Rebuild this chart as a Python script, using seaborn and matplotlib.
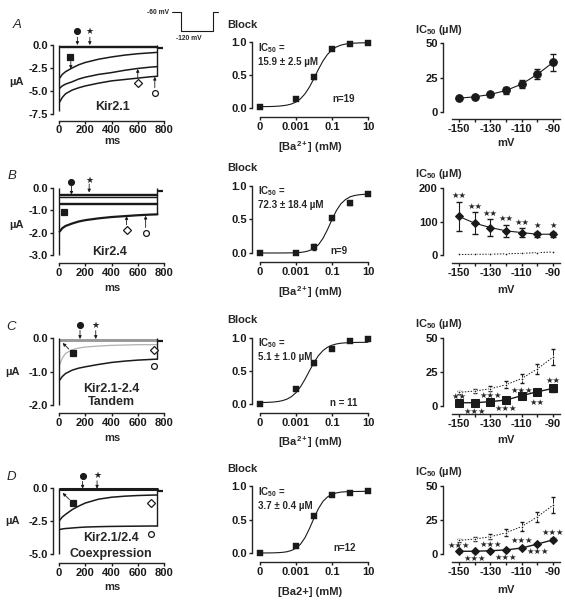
import matplotlib
matplotlib.use("Agg")
import matplotlib.pyplot as plt
import seaborn as sns
import pandas as pd
from matplotlib.lines import Line2D

# ---------------- data ----------------
T_MS = [5, 25, 50, 100, 150, 200, 300, 400, 500, 600, 700, 750]

A_TRACES = [
    [-3.6, -3.2, -2.9, -2.5, -2.15, -1.9, -1.55, -1.3, -1.1, -0.95, -0.85, -0.8],
    [-4.7, -4.45, -4.25, -4.0, -3.7, -3.5, -3.2, -3.0, -2.75, -2.55, -2.4, -2.35],
    [-6.2, -5.7, -5.3, -4.9, -4.65, -4.45, -4.15, -3.9, -3.75, -3.6, -3.45, -3.4],
]
A_FLAT = [-0.08, -0.2]
A_PEAK = -7.2

B_TRACES = [
    [-1.95, -1.8, -1.7, -1.59, -1.5, -1.44, -1.36, -1.3, -1.26, -1.22, -1.19, -1.18],
]
B_FLAT = [-0.25, -0.33, -0.42, -0.65, -0.72]
B_PEAK = -3.0

C_GRAY = [-0.8, -0.6, -0.46, -0.35, -0.3, -0.27, -0.24, -0.22, -0.21, -0.2, -0.2, -0.2]
C_TRACES = [
    [-1.26, -1.15, -1.06, -0.96, -0.9, -0.86, -0.79, -0.73, -0.69, -0.66, -0.64, -0.63],
]
C_FLAT = [-0.05, -0.1]
C_PEAK = -2.0

D_TRACES = [
    [-2.45, -2.2, -2.0, -1.64, -1.37, -1.14, -0.85, -0.7, -0.62, -0.57, -0.54, -0.53],
    [-3.15, -3.1, -3.07, -3.03, -2.99, -2.96, -2.93, -2.91, -2.9, -2.89, -2.88, -2.88],
]
D_FLAT = [-0.1]
D_PEAK = -5.0

# Ba2+ concentration-response (x = log10 mM, "0" plotted at -5)
BA_LOGX = [-5, -3, -2, -1, 0, 1]
BLOCK_A = [0.01, 0.14, 0.47, 0.89, 0.97, 0.99]
BLOCK_B = [0.0, 0.0, 0.09, 0.52, 0.75, 0.88]
BLOCK_C = [0.0, 0.22, 0.62, 0.83, 0.96, 0.98]
BLOCK_D = [0.0, 0.11, 0.55, 0.86, 0.90, 0.93]
BLOCK_ERR_A = [0.0, 0.01, 0.03, 0.01, 0.01, 0.01]
BLOCK_ERR_B = [0.01, 0.02, 0.04, 0.03, 0.03, 0.02]
BLOCK_ERR_C = [0.0, 0.01, 0.03, 0.01, 0.01, 0.01]
BLOCK_ERR_D = [0.0, 0.01, 0.01, 0.01, 0.01, 0.01]

FIT_X = [-5, -4.75, -4.5, -4.25, -4, -3.75, -3.5, -3.25, -3, -2.75, -2.5, -2.25, -2,
         -1.75, -1.5, -1.25, -1, -0.75, -0.5, -0.25, 0, 0.25, 0.5, 0.75, 1]
FIT_A = [0.021, 0.021, 0.022, 0.024, 0.028, 0.034, 0.044, 0.061, 0.091, 0.14, 0.215, 0.319, 0.449,
         0.588, 0.714, 0.812, 0.881, 0.926, 0.953, 0.969, 0.978, 0.983, 0.986, 0.988, 0.989]
FIT_B = [0.0, 0.0, 0.0, 0.0, 0.0003, 0.0006, 0.0012, 0.0025, 0.0046, 0.0092, 0.018, 0.036, 0.068,
         0.124, 0.219, 0.35, 0.499, 0.636, 0.737, 0.798, 0.838, 0.858, 0.869, 0.875, 0.877]
FIT_C = [0.022, 0.023, 0.026, 0.03, 0.038, 0.051, 0.074, 0.112, 0.172, 0.26, 0.375, 0.504, 0.63,
         0.734, 0.81, 0.86, 0.891, 0.91, 0.921, 0.927, 0.93, 0.932, 0.934, 0.934, 0.935]
FIT_D = [0.0003, 0.0006, 0.0012, 0.0024, 0.0048, 0.0096, 0.019, 0.038, 0.071, 0.131, 0.229, 0.366, 0.521,
         0.665, 0.771, 0.837, 0.876, 0.897, 0.909, 0.914, 0.917, 0.918, 0.919, 0.92, 0.92]

IC50_TEXT = ["15.9 \u00b1 2.5 \u00b5M", "72.3 \u00b1 18.4 \u00b5M", "5.1 \u00b1 1.0 \u00b5M", "3.7 \u00b1 0.4 \u00b5M"]
N_TEXT = ["n=19", "n=9", "n = 11", "n=12"]

# IC50 vs voltage
MV = [-150, -140, -130, -120, -110, -100, -90]
IC_K21 = [10.0, 11.0, 12.7, 15.6, 20.2, 27.3, 35.9]
IC_K21_ERR = [1.0, 1.5, 2.0, 2.5, 3.0, 3.5, 6.0]
IC_K24 = [115, 95, 82, 72, 67, 62, 62]
IC_K24_ERR = [42, 33, 25, 18, 14, 8, 8]
IC_B_REF = [1.5, 2.0, 2.5, 3.5, 5.0, 7.0, 9.0]
IC_TAND = [2.4, 2.4, 3.2, 4.4, 7.6, 10.5, 12.9]
IC_TAND_ERR = [1.0, 0.8, 1.0, 1.0, 1.2, 2.0, 2.5]
IC_COEX = [2.0, 2.0, 2.4, 3.0, 4.4, 7.3, 10.4]
IC_COEX_ERR = [0.5, 0.5, 0.5, 0.5, 0.6, 0.8, 1.0]

STARS_B = ["**", "**", "**", "**", "**", "*", "*"]
STARS_B_Y = [178, 146, 124, 109, 97, 87, 87]
STARS_C = ["**", "***", "***", "***", "***", "**", "**"]
STARS_C_Y = [7.3, -3.7, 8.0, -1.7, 11.7, 2.7, 18.5]
STARS_D = ["***"] * 7
STARS_D_Y = [6.3, -3.4, 6.8, -2.4, 10.0, 1.5, 16.0]

# ---------------- style ----------------
sns.set_theme(style="ticks")
plt.rcParams["font.family"] = ["Liberation Sans", "DejaVu Sans"]
plt.rcParams["font.weight"] = "bold"
plt.rcParams["mathtext.fontset"] = "custom"
plt.rcParams["mathtext.rm"] = "Liberation Sans:bold"
plt.rcParams["mathtext.it"] = "Liberation Sans:bold:italic"
plt.rcParams["mathtext.bf"] = "Liberation Sans:bold"
plt.rcParams["mathtext.default"] = "rm"
plt.rcParams["axes.linewidth"] = 1.0

W, H = 565, 602
fig = plt.figure(figsize=(W / 100, H / 100), dpi=100)
PT = 0.72  # points per pixel
FS = 8


def T(x, y, s, **kw):
    kw.setdefault("ha", "center")
    kw.setdefault("va", "center")
    kw.setdefault("fontsize", FS)
    return fig.text(x / W, 1 - y / H, s, **kw)


def make_ax(xmap, ymap, xlim, ylim, spine_x, axis_y, xb=None, yb=None):
    (xd0, xp0), (xd1, xp1) = xmap
    sx = (xp1 - xp0) / (xd1 - xd0)
    lpx = xp0 + (xlim[0] - xd0) * sx
    rpx = xp0 + (xlim[1] - xd0) * sx
    (yd0, yp0), (yd1, yp1) = ymap
    sy = (yp1 - yp0) / (yd1 - yd0)
    tpx = yp0 + (ylim[1] - yd0) * sy
    bpx = yp0 + (ylim[0] - yd0) * sy
    ax = fig.add_axes([lpx / W, 1 - bpx / H, (rpx - lpx) / W, (bpx - tpx) / H])
    ax.set_xlim(xlim)
    ax.set_ylim(ylim)
    ax.set_facecolor("none")
    sns.despine(ax=ax)
    ax.spines["left"].set_position(("outward", (lpx - spine_x) * PT))
    ax.spines["bottom"].set_position(("outward", (axis_y - bpx) * PT))
    if xb is not None:
        ax.spines["bottom"].set_bounds(*xb)
    if yb is not None:
        ax.spines["left"].set_bounds(*yb)
    ax.tick_params(length=2.5, width=1.0, pad=1.2, labelsize=FS, colors="k")
    ax.set_xlabel("")
    ax.set_ylabel("")
    return ax


def unclip(ax):
    for a in ax.lines + ax.collections + ax.texts:
        a.set_clip_on(False)


def mark(ax, m, x, y, filled=True, ms=4.2):
    if m == "*":
        ax.text(x, y, "\u2605", ha="center", va="center", fontsize=6.5,
                family=["DejaVu Sans"], clip_on=False)
        return
    ax.plot([x], [y], marker=m, ms=ms, color="k",
            mfc="k" if filled else "white", mew=0.9, clip_on=False, ls="none")


def arrow(ax, x0, y0, x1, y1):
    ax.annotate("", xy=(x1, y1), xytext=(x0, y0),
                arrowprops=dict(arrowstyle="-|>", lw=0.6, color="k",
                                mutation_scale=4.5, shrinkA=0, shrinkB=0),
                annotation_clip=False)


# ---------------- column 1: current traces ----------------
ROWS1 = [
    dict(top=45, bot=114, ymin=-7.5, axis=121, ticks=[0, -2.5, -5, -7.5],
         labels=["0.0", "-2.5", "-5.0", "-7.5"]),
    dict(top=188, bot=255, ymin=-3.0, axis=263, ticks=[0, -1, -2, -3],
         labels=["0.0", "-1.0", "-2.0", "-3.0"]),
    dict(top=338, bot=405, ymin=-2.0, axis=413, ticks=[0, -1, -2],
         labels=["0.0", "-1.0", "-2.0"]),
    dict(top=488, bot=554, ymin=-5.0, axis=563, ticks=[0, -2.5, -5],
         labels=["0.0", "-2.5", "-5.0"]),
]
TRACE_SETS = [
    (A_TRACES, A_FLAT, A_PEAK),
    (B_TRACES, B_FLAT, B_PEAK),
    (C_TRACES, C_FLAT, C_PEAK),
    (D_TRACES, D_FLAT, D_PEAK),
]
ax1 = []
for i, r in enumerate(ROWS1):
    ax = make_ax(((0, 59), (800, 164)), ((0, r["top"]), (r["ymin"], r["bot"])),
                 (0, 800), (r["ymin"], 0), spine_x=53, axis_y=r["axis"])
    ax.set_xticks([0, 200, 400, 600, 800])
    ax.set_yticks(r["ticks"])
    ax.set_yticklabels(r["labels"])
    if i == 0:
        ax.tick_params(axis="x", pad=0.6)
    traces, flats, peak = TRACE_SETS[i]
    flat_col = "#9a9a9a" if i == 2 else "k"
    flat_lw = 2.2 if i == 3 else (1.4 if i == 2 else 1.0)
    for lvl in flats:
        sns.lineplot(x=[T_MS[0], T_MS[-1]], y=[lvl, lvl], ax=ax, color=flat_col,
                     lw=flat_lw, estimator=None)
    if i == 2:
        sns.lineplot(x=T_MS, y=C_GRAY, ax=ax, color="#b0b0b0", lw=0.9, estimator=None)
    for tr in traces:
        sns.lineplot(x=T_MS, y=tr, ax=ax, color="k", lw=1.6 if i == 1 else 1.1,
                     estimator=None)
    ends = [tr[-1] for tr in traces]
    ax.vlines(0, peak, 0, color="k", lw=1.0)
    ax.vlines(T_MS[-1], min(ends), 0, color="k", lw=1.0)
    ax.hlines(-0.05 * abs(r["ymin"]), T_MS[-1], 790, color="k", lw=1.6)
    ax1.append(ax)
    unclip(ax)

# markers & arrows, column 1
a = ax1[0]
mark(a, "o", 140, 1.5); arrow(a, 140, 0.85, 140, 0.0)
mark(a, "*", 235, 1.5); arrow(a, 235, 0.85, 235, 0.0)
mark(a, "s", 85, -1.35); arrow(a, 90, -1.8, 90, -2.6)
mark(a, "D", 600, -4.1, filled=False, ms=3.6); arrow(a, 600, -3.5, 600, -2.6)
mark(a, "o", 730, -5.25, filled=False); arrow(a, 730, -4.65, 730, -3.45)
a = ax1[1]
mark(a, "o", 95, 0.27); arrow(a, 95, 0.13, 95, -0.3)
mark(a, "*", 230, 0.34); arrow(a, 230, 0.18, 230, -0.2)
mark(a, "s", 40, -1.07)
mark(a, "D", 515, -1.89, filled=False, ms=3.6); arrow(a, 515, -1.65, 515, -1.26)
mark(a, "o", 660, -2.0, filled=False); arrow(a, 660, -1.77, 660, -1.24)
a = ax1[2]
mark(a, "o", 160, 0.4); arrow(a, 160, 0.23, 160, -0.03)
mark(a, "*", 280, 0.38); arrow(a, 280, 0.22, 280, -0.03)
mark(a, "s", 110, -0.45); arrow(a, 75, -0.33, 28, -0.15)
mark(a, "D", 720, -0.35, filled=False, ms=3.6)
mark(a, "o", 720, -0.84, filled=False)
a = ax1[3]
mark(a, "o", 180, 0.88); arrow(a, 180, 0.5, 180, -0.05)
mark(a, "*", 290, 0.93); arrow(a, 290, 0.55, 290, -0.05)
mark(a, "s", 110, -1.14); arrow(a, 80, -0.88, 28, -0.38)
mark(a, "D", 700, -1.14, filled=False, ms=3.6)
mark(a, "o", 700, -3.48, filled=False)

# texts column 1
T(17, 25, "A", style="italic", weight="normal", fontsize=9.5)
T(12, 176, "B", style="italic", weight="normal", fontsize=9.5)
T(11, 327, "C", style="italic", weight="normal", fontsize=9.5)
T(11, 477, "D", style="italic", weight="normal", fontsize=9.5)
for y in [82, 225]:
    T(16, y, "\u00b5A")
T(12, 372, "\u00b5A")
T(12, 521, "\u00b5A")
for y in [141, 288, 438, 587]:
    T(112, y, "ms")
T(113, 107, "Kir2.1", fontsize=9)
T(110, 252, "Kir2.4", fontsize=9)
T(111, 389, "Kir2.1-2.4", fontsize=9)
T(111, 402, "Tandem", fontsize=9)
T(111, 538, "Kir2.1/2.4", fontsize=9)
T(111, 554, "Coexpression", fontsize=9)

# voltage protocol inset
px = [172, 181, 181, 213, 213, 218]
py = [12, 12, 31, 31, 12, 12]
fig.add_artist(Line2D([p / W for p in px], [1 - p / H for p in py],
                      transform=fig.transFigure, color="k", lw=0.8))
T(158, 12, "-60 mV", fontsize=4.8)
T(189, 38, "-120 mV", fontsize=4.8)

# ---------------- column 2: Ba block ----------------
ROWS2 = [(42, 108, 117, 25), (186, 253, 262, 168), (338, 404, 413, 320), (486, 553, 562, 469)]
BLOCKS = [(BLOCK_A, BLOCK_ERR_A, FIT_A), (BLOCK_B, BLOCK_ERR_B, FIT_B),
          (BLOCK_C, BLOCK_ERR_C, FIT_C), (BLOCK_D, BLOCK_ERR_D, FIT_D)]
XLAB2 = ["[Ba$^{2+}$] (mM)"] * 3 + ["[Ba2+] (mM)"]
N_POS = [(332, 99), (330, 251), (330, 403), (333, 548)]
for i, (top, bot, axis, ty) in enumerate(ROWS2):
    ax = make_ax(((-5, 260), (1, 368)), ((1, top), (0, bot)), (-5, 1), (0, 1),
                 spine_x=252, axis_y=axis)
    ax.set_xticks([-5, -3, -1, 1])
    ax.set_xticklabels(["0", "0.001", "0.1", "10"])
    ax.set_yticks([0, 0.5, 1.0])
    ax.set_yticklabels(["0.0", "0.5", "1.0"])
    yv, ye, fit = BLOCKS[i]
    sns.lineplot(x=FIT_X, y=fit, ax=ax, color="k", lw=0.8, estimator=None)
    ax.errorbar(BA_LOGX, yv, yerr=ye, fmt="none", ecolor="k", elinewidth=0.8, capsize=1.5)
    sns.scatterplot(x=BA_LOGX, y=yv, ax=ax, marker="s", s=14, color="k", edgecolor="k")
    unclip(ax)
    T(227, ty, "Block", ha="left")
    T(258, ty + 23, "IC$_{50}$ =", ha="left", fontsize=7)
    T(258, ty + 37, IC50_TEXT[i], ha="left", fontsize=7)
    T(N_POS[i][0], N_POS[i][1], N_TEXT[i], ha="left", fontsize=7)
    T(310, [147, 292, 442, 592][i], XLAB2[i])

# ---------------- column 3: IC50 vs voltage ----------------
ROWS3 = [(43, 112, 119, 50, 30), (188, 255, 263, 200, 174), (338, 406, 414, 50, 324), (486, 554, 562, 50, 472)]
ax3 = []
for i, (top, bot, axis, ymax, ty) in enumerate(ROWS3):
    ax = make_ax(((-150, 459), (-90, 553)), ((ymax, top), (0, bot)), (-154.5, -85.5),
                 (0, ymax), spine_x=443, axis_y=axis)
    ax.set_xticks(MV)
    ax.set_xticklabels(["-150", "", "-130", "", "-110", "", "-90"])
    ax.set_yticks([0, ymax / 2, ymax])
    ax.set_yticklabels([str(int(v)) for v in [0, ymax / 2, ymax]])
    T(415, ty, "IC$_{50}$ (\u00b5M)", ha="left")
    T(506, [143, 290, 440, 590][i], "mV")
    ax3.append(ax)

a = ax3[0]
a.errorbar(MV, IC_K21, yerr=IC_K21_ERR, fmt="none", ecolor="k", elinewidth=0.8, capsize=2)
sns.lineplot(x=MV, y=IC_K21, ax=a, color="k", lw=0.8, marker="o", ms=5.5, mec="k", estimator=None)

a = ax3[1]
sns.lineplot(x=MV, y=IC_B_REF, ax=a, color="k", lw=0.7, ls=(0, (1.5, 1.5)), marker="o", ms=2,
             estimator=None)
a.errorbar(MV, IC_K24, yerr=IC_K24_ERR, fmt="none", ecolor="k", elinewidth=0.8, capsize=2)
sns.lineplot(x=MV, y=IC_K24, ax=a, color="k", lw=0.8, marker="D", ms=4, mec="k", estimator=None)
for x, y, s in zip(MV, STARS_B_Y, STARS_B):
    a.text(x, y, s.replace("*", "\u2605"), ha="center", va="center", fontsize=6,
           family=["DejaVu Sans"])

for a, vals, errs, mk, msz, stars, sy in [
        (ax3[2], IC_TAND, IC_TAND_ERR, "s", 5.5, STARS_C, STARS_C_Y),
        (ax3[3], IC_COEX, IC_COEX_ERR, "D", 4, STARS_D, STARS_D_Y)]:
    a.errorbar(MV, IC_K21, yerr=IC_K21_ERR, fmt="none", ecolor="k", elinewidth=0.7, capsize=1.5)
    sns.lineplot(x=MV, y=IC_K21, ax=a, color="k", lw=0.7, ls=(0, (1.5, 1.5)), marker="o", ms=2,
                 estimator=None)
    a.errorbar(MV, vals, yerr=errs, fmt="none", ecolor="k", elinewidth=0.8, capsize=2)
    sns.lineplot(x=MV, y=vals, ax=a, color="k", lw=1.0, marker=mk, ms=msz, mec="k", estimator=None)
    for x, y, s in zip(MV, sy, stars):
        a.text(x, y, s.replace("*", "\u2605"), ha="center", va="center", fontsize=6,
               family=["DejaVu Sans"])

for a in ax3:
    unclip(a)
    if a.get_legend() is not None:
        a.get_legend().remove()

fig.savefig("out.png", dpi=100)
